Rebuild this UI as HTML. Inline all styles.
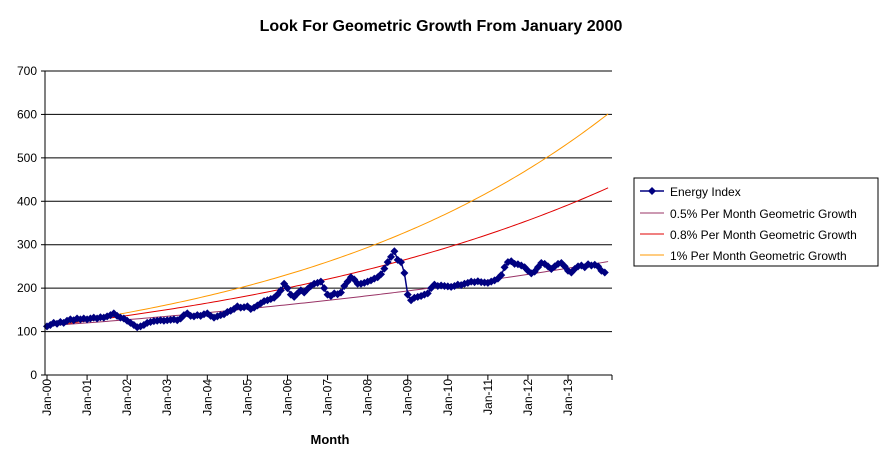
<!DOCTYPE html>
<html><head><meta charset="utf-8"><style>
body{margin:0;background:#fff;font-family:"Liberation Sans",Arial,sans-serif}
</style></head><body>
<svg id="c" width="880" height="460" xmlns="http://www.w3.org/2000/svg">
<rect width="880" height="460" fill="#fff"/>
<text x="441" y="31" text-anchor="middle" font-size="16" font-weight="bold">Look For Geometric Growth From January 2000</text>
<text x="330" y="444" text-anchor="middle" font-size="13" font-weight="bold">Month</text>
<g id="grid"></g><g id="lines"></g><g id="ax"></g>
<g>
<rect x="634" y="178" width="244" height="88" fill="#fff" stroke="#000"/>
<g><line x1="640" y1="191" x2="664" y2="191" stroke="#000080" stroke-width="1.5"/><path d="M652 187 L656 191 L652 195 L648 191Z" fill="#000080"/><text x="670" y="196" font-size="12">Energy Index</text></g>
<g><line x1="640" y1="213" x2="664" y2="213" stroke="#993366"/><text x="670" y="218" font-size="12">0.5% Per Month Geometric Growth</text></g>
<g><line x1="640" y1="234" x2="664" y2="234" stroke="#e00000"/><text x="670" y="239" font-size="12">0.8% Per Month Geometric Growth</text></g>
<g><line x1="640" y1="255" x2="664" y2="255" stroke="#ff9900"/><text x="670" y="260" font-size="12">1% Per Month Geometric Growth</text></g>
</g>
</svg>
<script>
const energy=[112,115,120,118,122,120,125,128,126,130,128,130,
128,130,132,130,133,132,135,138,142,136,132,130,
125,120,115,110,112,115,120,122,124,125,126,125,
126,127,128,126,130,138,142,136,135,138,136,140,
142,136,132,135,138,140,145,148,152,158,155,156,
158,152,155,160,165,170,172,175,178,185,195,210,
200,185,180,188,195,190,198,205,210,212,215,200,
185,182,188,186,190,205,215,225,220,210,210,212,
215,218,222,225,232,245,260,272,285,265,260,235,
185,172,178,180,182,185,188,200,208,205,206,205,
204,203,205,208,207,210,212,215,214,216,214,213,
212,215,218,222,230,248,260,262,256,255,252,248,
240,234,238,248,258,256,250,244,250,256,258,250,
240,236,244,250,252,248,255,252,254,250,240,236];
const rates=[0.005,0.008,0.01];
const startValue=113;
const yTicks=[0,100,200,300,400,500,600,700];
const xLabels=["Jan-00","Jan-01","Jan-02","Jan-03","Jan-04","Jan-05","Jan-06","Jan-07","Jan-08","Jan-09","Jan-10","Jan-11","Jan-12","Jan-13"];
const L=45,R=612,T=71,B=375,N=energy.length;
const X=i=>47+i*3.34, Y=v=>B-v*(B-T)/700;
const ns="http://www.w3.org/2000/svg";
function mk(t,a,p){const e=document.createElementNS(ns,t);for(const k in a)e.setAttribute(k,a[k]);p.appendChild(e);return e;}
const g=document.getElementById('grid'),ln=document.getElementById('lines'),ax=document.getElementById('ax');
yTicks.forEach(v=>{
 if(v>0){const l=mk('line',{x1:L,x2:R,y1:Y(v),y2:Y(v),stroke:'#000'},g);
 
 }
 const t=mk('text',{x:37,y:Y(v)+4,'text-anchor':'end','font-size':12},ax);t.textContent=v;
 
 
 mk('line',{x1:L-4,x2:L,y1:Y(v),y2:Y(v),stroke:'#000'},ax);
});
mk('line',{x1:L,x2:L,y1:T,y2:B,stroke:'#000'},ax);
mk('line',{x1:L,x2:R,y1:B,y2:B,stroke:'#000'},ax);
xLabels.forEach((s,k)=>{
 const x=X(k*12);
 mk('line',{x1:x,x2:x,y1:B,y2:B+5,stroke:'#000'},ax);
 const t=mk('text',{transform:`translate(${x+4},${B+4}) rotate(-90)`,'text-anchor':'end','font-size':12},ax);t.textContent=s;
 
 
});
mk('line',{x1:R,x2:R,y1:B,y2:B+5,stroke:'#000'},ax);
const cols=['#993366','#e00000','#ff9900'];
rates.forEach((r,j)=>{
 let d='';for(let i=0;i<=N;i++){d+=(i?'L':'M')+X(i)+' '+Y(startValue*Math.pow(1+r,i));}
 const p=mk('path',{d:d,fill:'none',stroke:cols[j],'stroke-width':1},ln);
 
 
});
let d='';energy.forEach((v,i)=>{d+=(i?'L':'M')+X(i)+' '+Y(v);});
const ep=mk('path',{d:d,fill:'none',stroke:'#000080','stroke-width':1.5},ln);


energy.forEach((v,i)=>{
 const x=X(i),y=Y(v);
 const m=mk('path',{d:`M${x} ${y-4}L${x+4} ${y}L${x} ${y+4}L${x-4} ${y}Z`,fill:'#000080'},ln);
 
 
});
</script>
</body></html>
